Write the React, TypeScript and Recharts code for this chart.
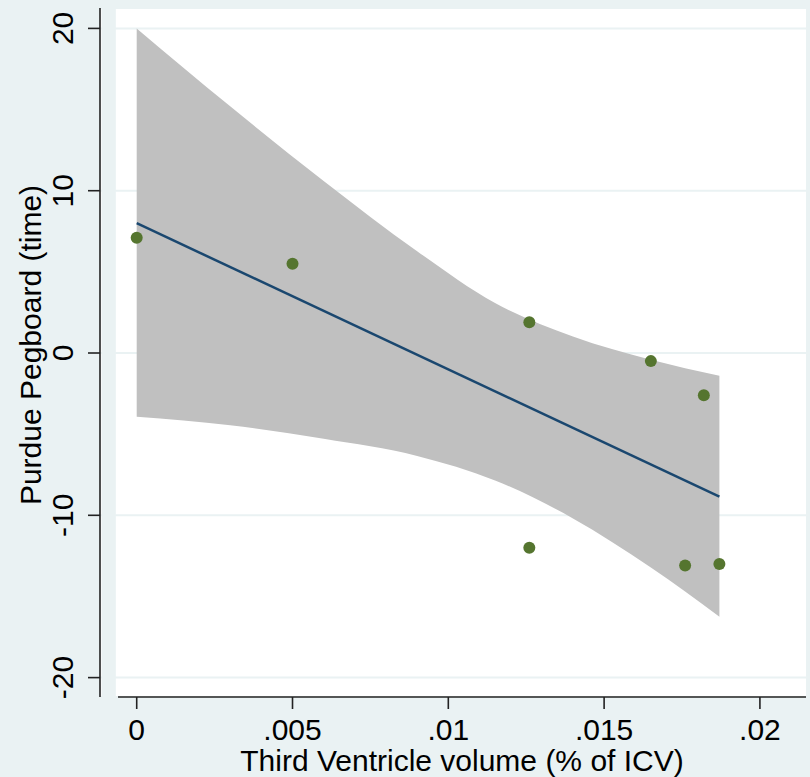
import React from "react";
import {
  ComposedChart,
  Area,
  Line,
  Scatter,
  XAxis,
  YAxis,
  CartesianGrid,
  ReferenceArea,
  ReferenceLine,
} from "recharts";

// observed subjects
const ventricle = [0, 0.005, 0.0126, 0.0126, 0.0165, 0.0176, 0.0182, 0.0187];
const pegboard = [7.1, 5.5, 1.9, -12.0, -0.5, -13.1, -2.6, -13.0];

// fitted line
const fitX = [0, 0.0187];
const fitY = [8.0, -8.85];

// 95% CI band of the fit
const bandX = [0, 0.003, 0.006, 0.009, 0.0115, 0.014, 0.0165, 0.0187];
const bandUpper = [20.0, 15.2, 10.6, 6.27, 3.08, 1.02, -0.41, -1.4];
const bandLower = [-3.92, -4.45, -5.29, -6.34, -7.85, -10.19, -13.22, -16.25];

const xTicks = [0, 0.005, 0.01, 0.015, 0.02];
const xTickLabels = ["0", ".005", ".01", ".015", ".02"];
const yTicks = [-20, -10, 0, 10, 20];
const yTickLabels = ["-20", "-10", "0", "10", "20"];

const X_DOMAIN: [number, number] = [-0.001178, 0.021479];
const Y_DOMAIN: [number, number] = [-21.195, 21.257];

const BG = "#EAF2F3";
const FONT = "'Liberation Sans', Arial, Helvetica, sans-serif";
const FS = 30;

const points = ventricle.map((x, i) => ({ x, y: pegboard[i] }));
const fitRows = fitX.map((x, i) => ({ x, y: fitY[i] }));
const bandRows = bandX.map((x, i) => ({ x, range: [bandLower[i], bandUpper[i]] }));

const XTick = ({ x, y, payload }: any) => {
  const i = xTicks.indexOf(payload.value);
  return (
    <text x={x} y={y + 29} textAnchor="middle" fontFamily={FONT} fontSize={FS} fill="#000">
      {i >= 0 ? xTickLabels[i] : payload.value}
    </text>
  );
};

const YTick = ({ y, payload }: any) => {
  const i = yTicks.indexOf(payload.value);
  return (
    <text
      x={73}
      y={y}
      textAnchor="middle"
      transform={`rotate(-90, 73, ${y})`}
      fontFamily={FONT}
      fontSize={FS}
      fill="#000"
    >
      {i >= 0 ? yTickLabels[i] : payload.value}
    </text>
  );
};

const Dot = ({ cx, cy }: any) => <circle cx={cx} cy={cy} r={6} fill="#55752F" />;

export default function App() {
  return (
    <div style={{ position: "absolute", left: 0, top: 0, width: 810, height: 777, background: BG }}>
      <ComposedChart width={810} height={777} margin={{ top: 8, right: 4, bottom: 0, left: 0 }}>
        <CartesianGrid vertical={false} stroke={BG} strokeWidth={2} fill="#ffffff" fillOpacity={1} />
        <XAxis
          dataKey="x"
          type="number"
          domain={X_DOMAIN}
          allowDataOverflow
          ticks={xTicks}
          interval={0}
          height={80}
          axisLine={false}
          tickSize={12}
          tickLine={{ stroke: "#222", strokeWidth: 1.6 }}
          tick={<XTick />}
          label={{
            content: () => (
              <text x={462} y={771} textAnchor="middle" fontFamily={FONT} fontSize={FS} fill="#000">
                Third Ventricle volume (% of ICV)
              </text>
            ),
          }}
        />
        <YAxis
          type="number"
          domain={Y_DOMAIN}
          allowDataOverflow
          ticks={yTicks}
          interval={0}
          width={100}
          axisLine={{ stroke: "#222", strokeWidth: 1.6 }}
          tickSize={12}
          tickLine={{ stroke: "#222", strokeWidth: 1.6 }}
          tick={<YTick />}
          label={{
            content: () => (
              <text
                x={30}
                y={345}
                textAnchor="middle"
                dominantBaseline="central"
                transform="rotate(-90, 30, 345)"
                fontFamily={FONT}
                fontSize={FS}
                fill="#000"
              >
                Purdue Pegboard (time)
              </text>
            ),
          }}
        />
        {/* gap between the y axis and the white plot region */}
        <ReferenceArea
          x1={X_DOMAIN[0] + 0.00005}
          x2={-0.00067}
          y1={Y_DOMAIN[0]}
          y2={Y_DOMAIN[1]}
          fill={BG}
          fillOpacity={1}
          stroke="none"
          ifOverflow="visible"
        />
        <Area
          data={bandRows}
          dataKey="range"
          type="monotone"
          fill="#C0C0C0"
          fillOpacity={1}
          stroke="none"
          isAnimationActive={false}
        />
        <Line
          data={fitRows}
          dataKey="y"
          type="linear"
          stroke="#1A476F"
          strokeWidth={2.5}
          dot={false}
          isAnimationActive={false}
        />
        <Scatter data={points} dataKey="y" shape={<Dot />} isAnimationActive={false} />
        {/* x axis line, offset from the y axis */}
        <ReferenceLine
          segment={[
            { x: -0.0006, y: Y_DOMAIN[0] },
            { x: X_DOMAIN[1], y: Y_DOMAIN[0] },
          ]}
          stroke="#222"
          strokeWidth={1.6}
          ifOverflow="visible"
        />
      </ComposedChart>
    </div>
  );
}
